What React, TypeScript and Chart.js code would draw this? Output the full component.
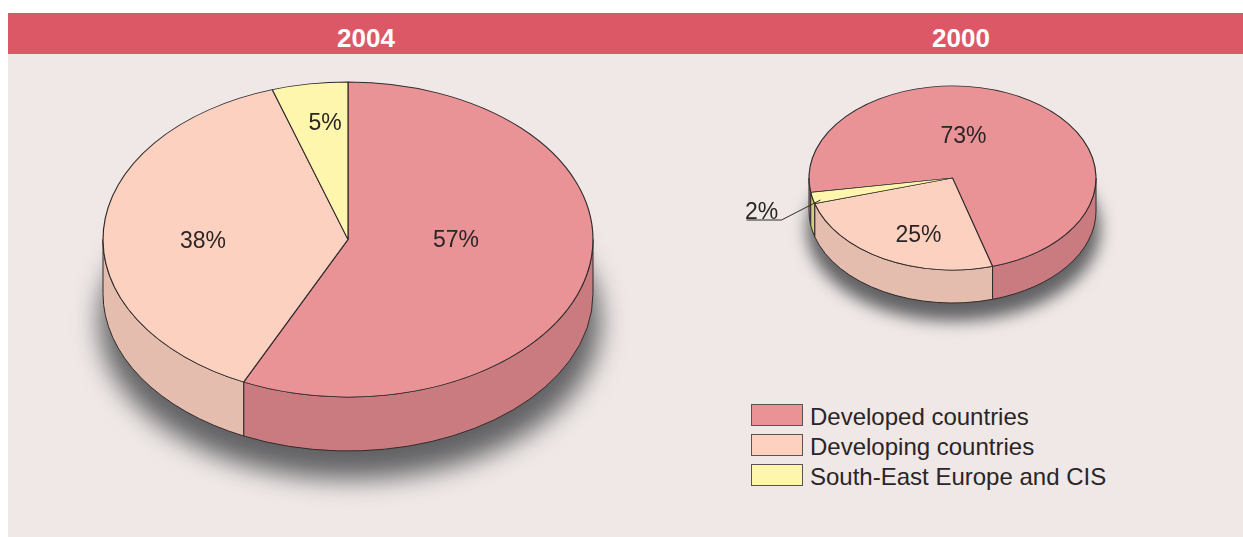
import React, { useEffect, useRef } from "react";
import { Chart, registerables } from "chart.js";

Chart.register(...registerables);

const categories = ["Developed countries", "Developing countries", "South-East Europe and CIS"];
const shares2004 = [57, 38, 5];
const shares2000 = [73, 25, 2];

const topColors = ["#e99396", "#fdd1c0", "#fef6ac"];
const sideColors = ["#c97b80", "#e4bdae", "#d5cd7c"];
const FONT = '"Liberation Sans", Arial, sans-serif';
const INK = "#2a2526";
const LINE = "#2f2b2c";

const pie3d = {
  id: "pie3d",
  beforeDatasetsDraw(chart: any, _a: any, o: any) {
    const ctx = chart.ctx;
    const arcs = chart.getDatasetMeta(0).data;
    const { x: cx, y: cy, outerRadius: r } = arcs[0];
    const sx = o.rx / r;
    const sy = o.ry / r;

    ctx.save();
    ctx.filter = `blur(${o.shadowBlur}px)`;
    ctx.fillStyle = "#626264";
    ctx.beginPath();
    ctx.ellipse(cx + o.shadowDx, cy + o.shadowDy, o.rx + o.shadowGrow, o.ry, 0, 0, Math.PI * 2);
    ctx.fill();
    ctx.restore();

    arcs.forEach((arc: any, i: number) => {
      for (let k = -1; k <= 2; k++) {
        const lo = Math.max(arc.startAngle, 2 * Math.PI * k);
        const hi = Math.min(arc.endAngle, 2 * Math.PI * k + Math.PI);
        if (hi <= lo) continue;
        ctx.save();
        ctx.translate(cx, cy);
        ctx.scale(sx, sy);
        ctx.beginPath();
        ctx.arc(0, 0, r, lo, hi);
        ctx.arc(0, o.depth / sy, r, hi, lo, true);
        ctx.closePath();
        ctx.restore();
        ctx.fillStyle = sideColors[i];
        ctx.strokeStyle = LINE;
        ctx.lineWidth = 1;
        ctx.fill();
        ctx.stroke();
      }
    });

    ctx.save();
    ctx.translate(cx, cy);
    ctx.scale(sx, sy);
    ctx.translate(-cx, -cy);
  },
  afterDatasetsDraw(chart: any, _a: any, o: any) {
    const ctx = chart.ctx;
    ctx.restore();
    const { x: cx, y: cy } = chart.getDatasetMeta(0).data[0];
    ctx.save();
    ctx.fillStyle = INK;
    ctx.font = `23px ${FONT}`;
    ctx.textAlign = "center";
    ctx.textBaseline = "middle";
    chart.data.datasets[0].data.forEach((v: number, i: number) => {
      const [dx, dy] = o.labelOffsets[i];
      ctx.fillText(`${v}%`, cx + dx, cy + dy);
    });
    if (o.leader) {
      ctx.strokeStyle = LINE;
      ctx.lineWidth = 1;
      ctx.beginPath();
      o.leader.forEach(([dx, dy]: number[], j: number) => {
        if (j === 0) ctx.moveTo(cx + dx, cy + dy);
        else ctx.lineTo(cx + dx, cy + dy);
      });
      ctx.stroke();
    }
    ctx.restore();
  },
};

function Pie({ values, rotation, box, area, look }: any) {
  const ref = useRef<HTMLCanvasElement>(null);
  useEffect(() => {
    const chart = new Chart(ref.current as HTMLCanvasElement, {
      type: "pie",
      data: {
        labels: categories,
        datasets: [
          {
            data: values,
            backgroundColor: topColors,
            borderColor: LINE,
            borderWidth: 0.75,
            clip: false,
          } as any,
        ],
      },
      options: {
        animation: false,
        responsive: false,
        rotation,
        layout: { padding: area },
        plugins: { legend: { display: false }, tooltip: { enabled: false }, pie3d: look },
      } as any,
      plugins: [pie3d],
    });
    return () => chart.destroy();
  }, []);
  return (
    <canvas
      ref={ref}
      width={box.width}
      height={box.height}
      style={{ position: "absolute", left: box.left, top: box.top, width: box.width, height: box.height }}
    />
  );
}

const titleStyle: React.CSSProperties = {
  position: "absolute",
  top: 13,
  height: 41,
  transform: "translateX(-50%)",
  color: "#fff",
  font: `bold 26px/51px ${FONT}`,
};

export default function App() {
  return (
    <div style={{ position: "absolute", left: 0, top: 0, width: 1243, height: 537, overflow: "hidden", background: "#fff" }}>
      <div style={{ position: "absolute", left: 8, top: 54, width: 1235, height: 483, background: "#efe8e7" }} />
      <div style={{ position: "absolute", left: 8, top: 13, width: 1235, height: 41, background: "#dc5866" }} />
      <div style={{ ...titleStyle, left: 366, height: 41, lineHeight: "51px" }}>2004</div>
      <div style={{ ...titleStyle, left: 961, height: 41, lineHeight: "51px" }}>2000</div>
      <Pie
        values={shares2004}
        rotation={0}
        box={{ left: 8, top: 53, width: 716, height: 484 }}
        area={{ left: 182.5, right: 218.5, top: 29, bottom: 140 }}
        look={{
          rx: 245, ry: 157.5, depth: 54, shadowBlur: 13, shadowDx: 2, shadowDy: 82, shadowGrow: 5,
          labelOffsets: [[108, 1], [-145, 2], [-23, -116]],
        }}
      />
      <Pie
        values={shares2000}
        rotation={261}
        box={{ left: 724, top: 53, width: 500, height: 300 }}
        area={{ left: 136.5, right: 179.5, top: 33, bottom: 83 }}
        look={{
          rx: 143.5, ry: 92, depth: 33, shadowBlur: 8, shadowDx: 1, shadowDy: 51, shadowGrow: 3,
          labelOffsets: [[11, -41], [-34, 58], [-191, 35]],
          leader: [[-206, 42], [-171, 42], [-132, 22]],
        }}
      />
      {categories.map((c, i) => (
        <React.Fragment key={c}>
          <div
            style={{
              position: "absolute", left: 751, top: 404 + i * 30, width: 50, height: 20,
              background: topColors[i], border: "1px solid #5a5253",
            }}
          />
          <div
            style={{
              position: "absolute", left: 810, top: 403 + i * 30, height: 28, color: INK,
              font: `24px/28px ${FONT}`, whiteSpace: "nowrap",
            }}
          >
            {c}
          </div>
        </React.Fragment>
      ))}
    </div>
  );
}
